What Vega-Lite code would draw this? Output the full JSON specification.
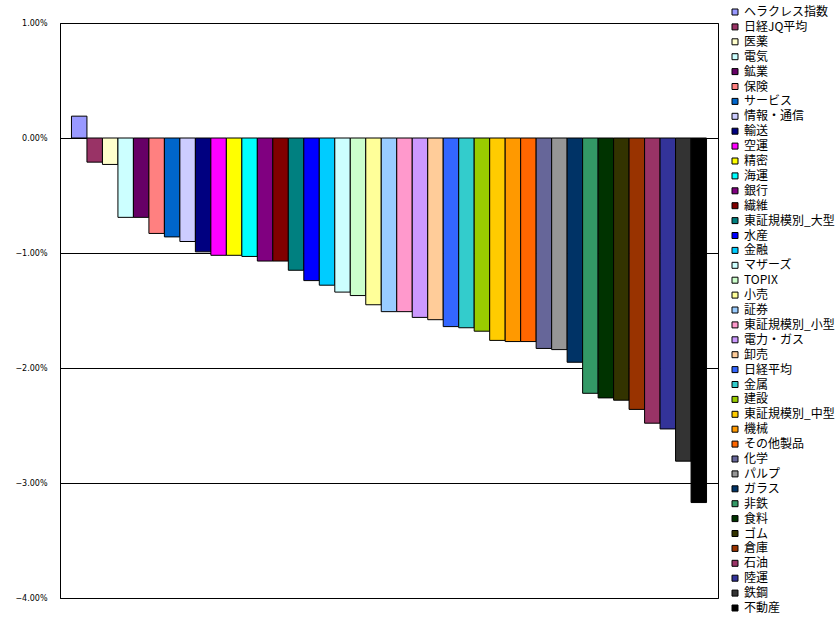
{
  "$schema": "https://vega.github.io/schema/vega-lite/v6.json",
  "autosize": "none",
  "width": 658,
  "height": 575,
  "padding": {"left": 60, "top": 23, "right": 122, "bottom": 24},
  "background": "white",
  "data": {
    "values": [
      {"name": "ヘラクレス指数", "value": 0.0019},
      {"name": "日経JQ平均", "value": -0.0021},
      {"name": "医薬", "value": -0.0023},
      {"name": "電気", "value": -0.0069},
      {"name": "鉱業", "value": -0.0069},
      {"name": "保険", "value": -0.0083},
      {"name": "サービス", "value": -0.0086},
      {"name": "情報・通信", "value": -0.0090},
      {"name": "輸送", "value": -0.0099},
      {"name": "空運", "value": -0.0102},
      {"name": "精密", "value": -0.0102},
      {"name": "海運", "value": -0.0103},
      {"name": "銀行", "value": -0.0107},
      {"name": "繊維", "value": -0.0107},
      {"name": "東証規模別_大型", "value": -0.0115},
      {"name": "水産", "value": -0.0124},
      {"name": "金融", "value": -0.0128},
      {"name": "マザーズ", "value": -0.0134},
      {"name": "TOPIX", "value": -0.0137},
      {"name": "小売", "value": -0.0145},
      {"name": "証券", "value": -0.0151},
      {"name": "東証規模別_小型", "value": -0.0151},
      {"name": "電力・ガス", "value": -0.0156},
      {"name": "卸売", "value": -0.0158},
      {"name": "日経平均", "value": -0.0164},
      {"name": "金属", "value": -0.0165},
      {"name": "建設", "value": -0.0168},
      {"name": "東証規模別_中型", "value": -0.0176},
      {"name": "機械", "value": -0.0177},
      {"name": "その他製品", "value": -0.0177},
      {"name": "化学", "value": -0.0183},
      {"name": "パルプ", "value": -0.0184},
      {"name": "ガラス", "value": -0.0195},
      {"name": "非鉄", "value": -0.0222},
      {"name": "食料", "value": -0.0226},
      {"name": "ゴム", "value": -0.0228},
      {"name": "倉庫", "value": -0.0236},
      {"name": "石油", "value": -0.0248},
      {"name": "陸運", "value": -0.0253},
      {"name": "鉄鋼", "value": -0.0281},
      {"name": "不動産", "value": -0.0317}
    ]
  },
  "mark": {"type": "bar", "stroke": "black", "strokeWidth": 1},
  "encoding": {
    "x": {
      "field": "name",
      "type": "nominal",
      "sort": null,
      "axis": null,
      "scale": {"paddingInner": 0, "paddingOuter": 0.74}
    },
    "y": {
      "field": "value",
      "type": "quantitative",
      "scale": {"domain": [-0.04, 0.01], "nice": false, "zero": false},
      "axis": {
        "title": null,
        "format": ".2%",
        "values": [-0.04, -0.03, -0.02, -0.01, 0, 0.01],
        "grid": true,
        "gridColor": "black",
        "gridOpacity": 1,
        "gridWidth": 1,
        "domainColor": "black",
        "domainWidth": 1,
        "ticks": false,
        "labelPadding": 13,
        "labelFont": "DejaVu Sans",
        "labelFontSize": 8,
        "labelColor": "black"
      }
    },
    "color": {
      "field": "name",
      "type": "nominal",
      "sort": null,
      "scale": {
        "domain": ["ヘラクレス指数", "日経JQ平均", "医薬", "電気", "鉱業", "保険", "サービス", "情報・通信", "輸送", "空運", "精密", "海運", "銀行", "繊維", "東証規模別_大型", "水産", "金融", "マザーズ", "TOPIX", "小売", "証券", "東証規模別_小型", "電力・ガス", "卸売", "日経平均", "金属", "建設", "東証規模別_中型", "機械", "その他製品", "化学", "パルプ", "ガラス", "非鉄", "食料", "ゴム", "倉庫", "石油", "陸運", "鉄鋼", "不動産"],
        "range": ["#9999FF", "#993366", "#FFFFCC", "#CCFFFF", "#660066", "#FF8080", "#0066CC", "#CCCCFF", "#000080", "#FF00FF", "#FFFF00", "#00FFFF", "#800080", "#800000", "#008080", "#0000FF", "#00CCFF", "#CCFFFF", "#CCFFCC", "#FFFF99", "#99CCFF", "#FF99CC", "#CC99FF", "#FFCC99", "#3366FF", "#33CCCC", "#99CC00", "#FFCC00", "#FF9900", "#FF6600", "#666699", "#969696", "#003366", "#339966", "#003300", "#333300", "#993300", "#993366", "#333399", "#333333", "#000000"]
      },
      "legend": {
        "title": null,
        "orient": "none",
        "legendX": 669,
        "legendY": -17,
        "padding": 0,
        "symbolLimit": 0,
        "symbolType": "square",
        "symbolSize": 36,
        "symbolStrokeColor": "black",
        "symbolStrokeWidth": 1,
        "symbolOpacity": 1,
        "labelFont": "Noto Sans CJK JP",
        "labelFontSize": 12,
        "labelColor": "black",
        "labelOffset": 3,
        "labelLimit": 200,
        "rowPadding": 2.9,
        "columns": 1
      }
    }
  },
  "config": {
    "view": {"stroke": "black", "strokeWidth": 1}
  }
}
